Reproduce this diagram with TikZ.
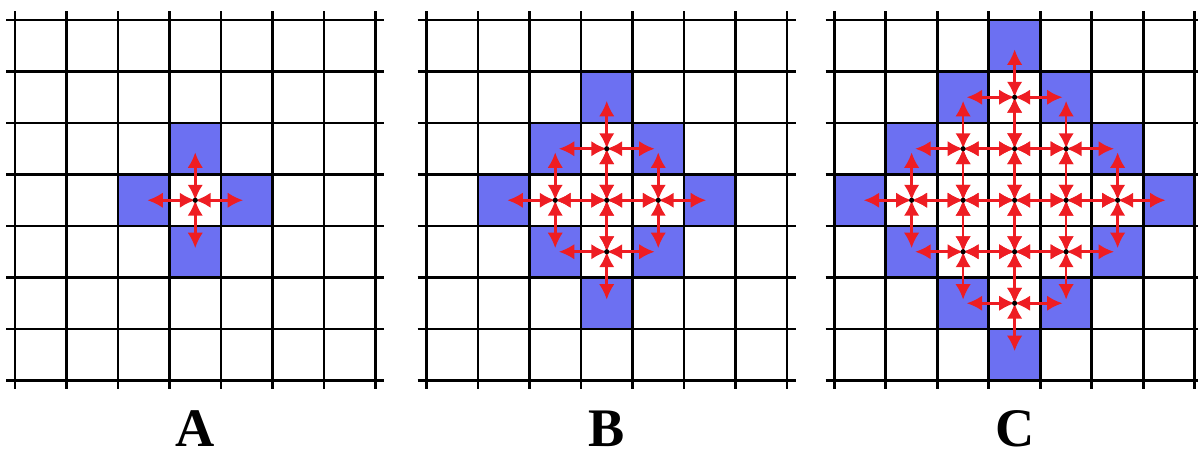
\documentclass[tikz,border=0pt]{standalone}
\usepackage{fontspec}
\setmainfont{Liberation Serif}
\usetikzlibrary{arrows.meta}
\definecolor{bluea}{HTML}{6C70F2}
\definecolor{reda}{HTML}{EE1D23}
\tikzset{gridline/.style={line width=1.6pt,draw=black},cellfill/.style={fill=bluea},flow/.style={{Latex[length=3mm,width=3mm]}-{Latex[length=3mm,width=3mm]},line width=1.4pt,draw=reda},tag/.style={font=\bfseries\fontsize{30}{30}\selectfont,anchor=base,inner sep=0pt}}

\begin{document}
\begin{tikzpicture}
\clip (0,0) rectangle (23.262,-8.796);
\foreach \p/\xo/\r in {A/0/1,B/7.99/2,C/15.91/3}{
\begin{scope}[shift={(0.291+\xo,-0.388)}]
\foreach \i in {0,...,6}{\foreach \j in {0,...,6}{
  \pgfmathtruncatemacro\d{abs(\i-3)+abs(\j-3)}
  \coordinate (\p-\i-\j) at (\i+0.5,-\j-0.5);
  \ifnum\d=\r \fill[cellfill] (\i,-\j) rectangle (\i+1,-\j-1); \fi
}}
\foreach \k in {0,...,7}{
  \draw[gridline] (-0.17,-\k) -- (7.17,-\k);
  \draw[gridline] (\k,0.17) -- (\k,-7.17);
}
\foreach \i in {0,...,6}{\foreach \j in {0,...,6}{
  \pgfmathtruncatemacro\d{abs(\i-3)+abs(\j-3)}
  \ifnum\d<\r
    \foreach \dx/\dy in {1/0,-1/0,0/1,0/-1}{
      \pgfmathtruncatemacro\ni{\i+\dx}
      \pgfmathtruncatemacro\nj{\j+\dy}
      \pgfmathtruncatemacro\nd{abs(\ni-3)+abs(\nj-3)}
      \ifnum\nd<\r \draw[flow] (\p-\i-\j) -- (\p-\ni-\nj);
      \else \draw[flow,shorten >=0.7mm] (\p-\i-\j) -- (\p-\ni-\nj); \fi
    }
  \fi
}}
\foreach \i in {0,...,6}{\foreach \j in {0,...,6}{
  \pgfmathtruncatemacro\d{abs(\i-3)+abs(\j-3)}
  \ifnum\d<\r \fill (\p-\i-\j) circle (0.5mm); \fi
}}
\node[tag] (lab\p) at (3.5,-8.29) {\p};
\end{scope}
}
\end{tikzpicture}
\end{document}
